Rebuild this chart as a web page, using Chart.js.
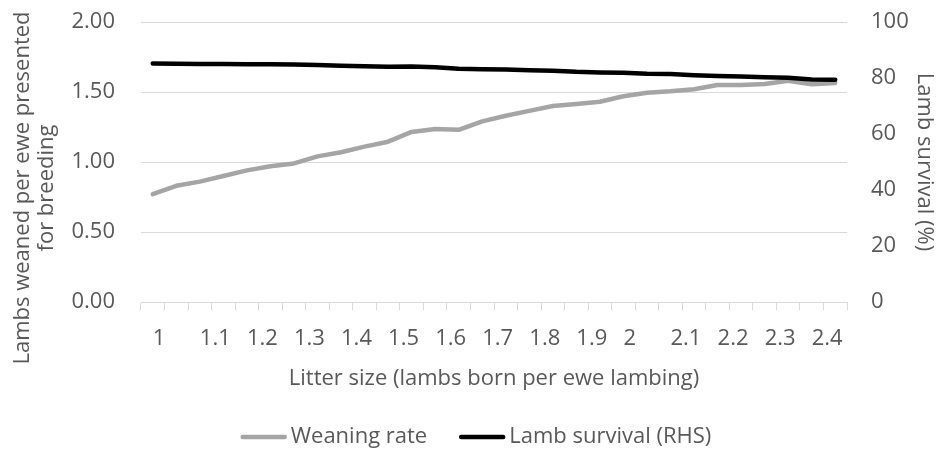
<!DOCTYPE html>
<html>
<head>
<meta charset="utf-8">
<script src="https://cdn.jsdelivr.net/npm/chart.js@4.4.1/dist/chart.umd.min.js"></script>
<style>
  html, body { margin: 0; padding: 0; background: #ffffff; }
  #wrap { width: 942px; height: 449px; position: relative; }
</style>
</head>
<body>
<div id="wrap"><canvas id="chart"></canvas></div>
<script>
// litter size categories (only every second one gets a label)
const categories = ["1", "1.05", "1.1", "1.15", "1.2", "1.25", "1.3", "1.35", "1.4", "1.45",
    "1.5", "1.55", "1.6", "1.65", "1.7", "1.75", "1.8", "1.85", "1.9", "1.95",
    "2", "2.05", "2.1", "2.15", "2.2", "2.25", "2.3", "2.35", "2.4", "2.45"];

// lambs weaned per ewe presented for breeding (left axis)
const weaningRate = [0.77, 0.83, 0.86, 0.90, 0.94, 0.97, 0.99, 1.04, 1.07, 1.11,
    1.145, 1.215, 1.235, 1.23, 1.29, 1.33, 1.365, 1.40, 1.415, 1.43,
    1.47, 1.495, 1.505, 1.52, 1.55, 1.55, 1.557, 1.58, 1.555, 1.565];

// lamb survival % (right axis)
const lambSurvival = [85.2, 85.1, 85.0, 85.0, 84.9, 84.9, 84.8, 84.6, 84.4, 84.2,
    84.0, 84.1, 83.8, 83.3, 83.1, 83.0, 82.8, 82.6, 82.2, 82.0,
    81.9, 81.5, 81.4, 81.0, 80.7, 80.5, 80.3, 80.1, 79.5, 79.4];

const leftTitle = ["Lambs weaned per ewe presented", "for breeding"];
const rightTitle = "Lamb survival (%)";
const xTitle = "Litter size (lambs born per ewe lambing)";

const textColor = "#595959";
const gridColor = "#d9d9d9";
const fontFamily = "'Open Sans', sans-serif";
const fontSize = 22;

// left axis title is longer than the plot, so draw it by hand
const leftTitlePlugin = {
    id: "leftTitle",
    afterDraw(chart) {
        const ctx = chart.ctx;
        ctx.save();
        ctx.fillStyle = textColor;
        ctx.font = fontSize + "px " + fontFamily;
        ctx.textAlign = "center";
        ctx.textBaseline = "alphabetic";
        ctx.translate(29, 188);
        ctx.rotate(-Math.PI / 2);
        ctx.fillText(leftTitle[0], 0, 0);
        ctx.fillText(leftTitle[1], 0, 24);
        ctx.restore();
    }
};

// Excel style legend: short line, small gap, label
const legendPlugin = {
    id: "excelLegend",
    afterDraw(chart) {
        const ctx = chart.ctx;
        const items = [1, 0].map(i => chart.data.datasets[i]);
        const lineLen = 46, gap = 4, itemGap = 32, y = 437;
        ctx.save();
        ctx.font = fontSize + "px " + fontFamily;
        const widths = items.map(d => lineLen + gap + ctx.measureText(d.label).width);
        const total = widths.reduce((a, b) => a + b, 0) + itemGap * (items.length - 1);
        let x = 476 - total / 2;
        items.forEach((d, i) => {
            ctx.strokeStyle = d.borderColor;
            ctx.lineWidth = 4.5;
            ctx.lineCap = "round";
            ctx.beginPath();
            ctx.moveTo(x + 2, y);
            ctx.lineTo(x + lineLen - 2, y);
            ctx.stroke();
            ctx.fillStyle = textColor;
            ctx.textAlign = "left";
            ctx.textBaseline = "middle";
            ctx.fillText(d.label, x + lineLen + gap, y);
            x += widths[i] + itemGap;
        });
        ctx.restore();
    }
};

new Chart(document.getElementById("chart"), {
    type: "line",
    data: {
        labels: categories,
        datasets: [
            {
                label: "Lamb survival (RHS)",
                data: lambSurvival,
                yAxisID: "y1",
                borderColor: "#000000",
                backgroundColor: "#000000",
                borderWidth: 4.5,
                borderCapStyle: "round",
                borderJoinStyle: "round",
                pointRadius: 0,
                tension: 0
            },
            {
                label: "Weaning rate",
                data: weaningRate,
                yAxisID: "y",
                borderColor: "#a5a5a5",
                backgroundColor: "#a5a5a5",
                borderWidth: 4.5,
                borderCapStyle: "round",
                borderJoinStyle: "round",
                pointRadius: 0,
                tension: 0
            }
        ]
    },
    options: {
        responsive: true,
        maintainAspectRatio: false,
        animation: false,
        layout: { padding: { top: 22, left: 0, right: 0, bottom: 39 } },
        plugins: {
            tooltip: { enabled: false },
            legend: { display: false }
        },
        scales: {
            x: {
                offset: true,
                grid: {
                    offset: true,
                    drawOnChartArea: false,
                    drawTicks: true,
                    tickLength: 8,
                    color: gridColor
                },
                border: { color: gridColor, width: 1 },
                ticks: {
                    autoSkip: false,
                    maxRotation: 0,
                    minRotation: 0,
                    align: "start",
                    padding: 16,
                    color: textColor,
                    font: { family: fontFamily, size: fontSize },
                    callback: function (value, index) {
                        return index % 2 === 0 ? this.getLabelForValue(value) : "";
                    }
                },
                title: {
                    display: true,
                    text: xTitle,
                    color: textColor,
                    font: { family: fontFamily, size: fontSize },
                    padding: { top: 4, bottom: 18 }
                },
                afterFit: scale => { scale.height = 108; }
            },
            y: {
                position: "left",
                min: 0,
                max: 2,
                ticks: {
                    stepSize: 0.5,
                    color: textColor,
                    padding: 0,
                    font: { family: fontFamily, size: fontSize },
                    callback: v => v.toFixed(2)
                },
                grid: { color: gridColor, drawTicks: true, tickLength: 26, tickColor: "rgba(0,0,0,0)" },
                border: { display: false },
                afterFit: scale => { scale.width = 141; }
            },
            y1: {
                position: "right",
                min: 0,
                max: 100,
                ticks: {
                    stepSize: 20,
                    color: textColor,
                    padding: 0,
                    font: { family: fontFamily, size: fontSize }
                },
                grid: { drawOnChartArea: false, drawTicks: true, tickLength: 24, tickColor: "rgba(0,0,0,0)" },
                border: { display: false },
                title: {
                    display: true,
                    text: rightTitle,
                    color: textColor,
                    font: { family: fontFamily, size: fontSize },
                    padding: { top: 5, bottom: 0 }
                },
                afterFit: scale => { scale.width = 95; }
            }
        }
    },
    plugins: [leftTitlePlugin, legendPlugin]
});
</script>
</body>
</html>
